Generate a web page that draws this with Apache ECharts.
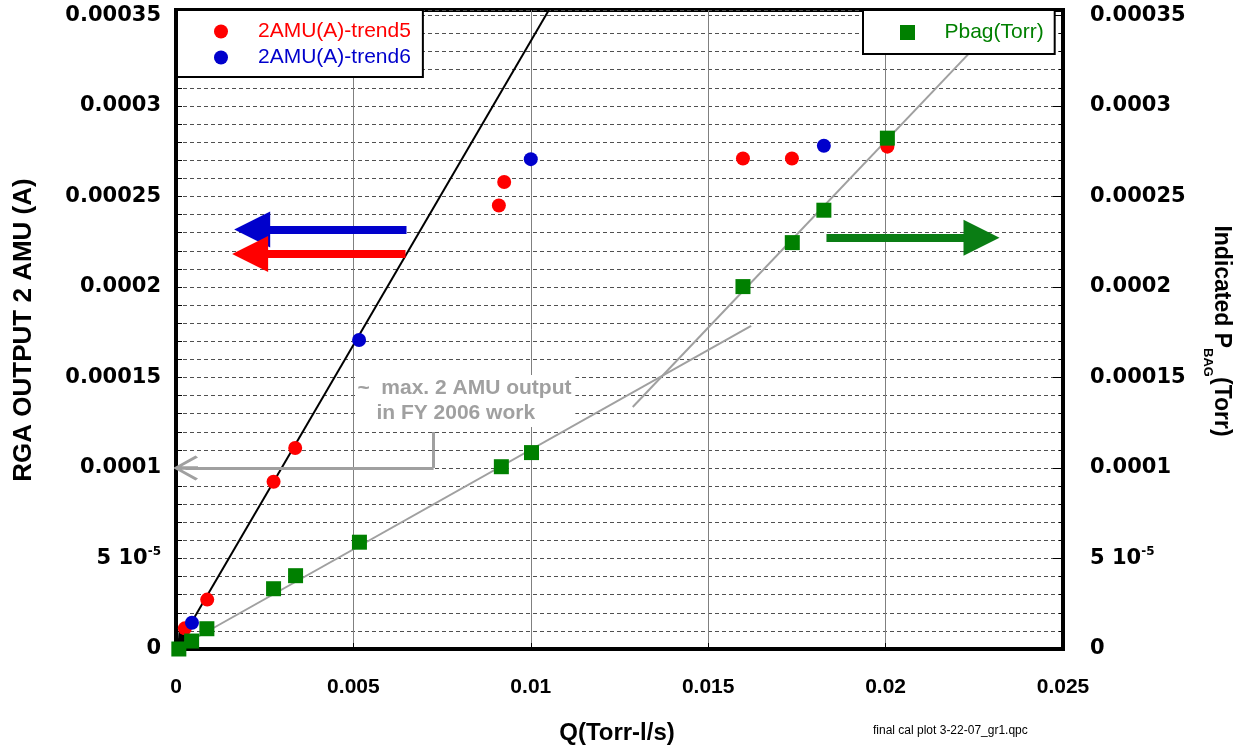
<!DOCTYPE html>
<html><head><meta charset="utf-8">
<script src="https://cdn.jsdelivr.net/npm/echarts@6/dist/echarts.min.js"></script>
<style>html,body{margin:0;padding:0;background:#fff}#c{width:1246px;height:748px}</style>
</head><body><div id="c"></div>
<script>
// ---- data ----
const trend5Q = [0.00025, 0.00088, 0.00275, 0.00336, 0.0091, 0.00925, 0.01598, 0.01736, 0.02005];
const trend5A = [0.0000114, 0.0000273, 0.0000924, 0.000111, 0.000245, 0.000258, 0.000271, 0.000271, 0.0002775];
const trend6Q = [0.00045, 0.00516, 0.0100, 0.01826];
const trend6A = [0.0000145, 0.0001707, 0.0002706, 0.000278];
const pbagQ = [0.00008, 0.00044, 0.00087, 0.00275, 0.00337, 0.00517, 0.00917, 0.01002, 0.01598, 0.01737, 0.01826, 0.02005];
const pbagT = [0, 0.0000044, 0.0000112, 0.0000333, 0.0000405, 0.000059, 0.0001007, 0.0001085, 0.0002002, 0.0002245, 0.0002424, 0.0002822];

// fit lines and annotation arrows (data units)
const fitTrend = [[0.000143, 0.0000048], [0.01051, 0.000353]];
const fitPbagLow = [[0, 0], [0.01621, 0.0001785]];
const fitPbagHigh = [[0.012873, 0.0001337], [0.0224, 0.00033]];
const arrowTrend6 = [[0.006497, 0.0002317], [0.002147, 0.0002317]];
const arrowTrend5 = [[0.006469, 0.0002182], [0.00209, 0.0002182]];
const arrowPbag = [[0.018333, 0.0002272], [0.022703, 0.0002272]];
const maxDrop = [[0.00726, 0.0001199], [0.00726, 0.0001]];
const maxArrow = [[0.00726, 0.0001], [0.000268, 0.0001]];
const noteAnchor = [0.005056, 0.0001514];
const noteLines = ['~  max. 2 AMU output', 'in FY 2006 work'];

// axes
const xRange = [0, 0.025], xStep = 0.005;
const yRange = [0, 0.000353], yStep = 0.00005;
const yTickValues = [0, 0.00005, 0.0001, 0.00015, 0.0002, 0.00025, 0.0003, 0.00035];
const yTickText = ['0', '{n|5 10}{e|-5}', '0.0001', '0.00015', '0.0002', '0.00025', '0.0003', '0.00035'];

const names = { t5: '2AMU(A)-trend5', t6: '2AMU(A)-trend6', pb: 'Pbag(Torr)' };
const C = { red: '#ff0000', blue: '#0000cc', green: '#008000', grey: '#a0a0a0' };

const zip = (a, b) => a.map((v, i) => [v, b[i]]);
function yFmt(v) {
  for (let i = 0; i < yTickValues.length; i++) if (Math.abs(v - yTickValues[i]) < 1e-10) return yTickText[i];
  return '';
}
const yLabelBase = {
  fontFamily: 'DejaVu Sans', fontWeight: 'bold', fontSize: 21, color: '#000', formatter: yFmt,
  rich: {
    n: { fontFamily: 'DejaVu Sans', fontWeight: 'bold', fontSize: 21, color: '#000', lineHeight: 26, verticalAlign: 'middle' },
    e: { fontFamily: 'DejaVu Sans', fontWeight: 'bold', fontSize: 12, color: '#000', lineHeight: 13, verticalAlign: 'top' }
  }
};
const dash = { color: '#505050', width: 1, type: [4, 3] };

function linesSeries(coords, color, width, symbol, symbolSize, yIdx) {
  return {
    type: 'lines', coordinateSystem: 'cartesian2d', xAxisIndex: 0, yAxisIndex: yIdx || 0,
    polyline: false, silent: true, symbol: symbol, symbolSize: symbolSize,
    lineStyle: { color: color, width: width, opacity: 1, curveness: 0 },
    data: [{ coords: coords }]
  };
}

const chart = echarts.init(document.getElementById('c'), null, { renderer: 'canvas' });
const option = {
  animation: false,
  backgroundColor: '#fff',
  grid: { left: 176, right: 183, top: 10, bottom: 99, show: true, borderColor: '#000', borderWidth: 4, backgroundColor: 'transparent', containLabel: false, outerBoundsMode: 'none' },
  xAxis: [{
    type: 'value', min: xRange[0], max: xRange[1], interval: xStep,
    axisLine: { show: true, onZero: false, lineStyle: { color: '#000', width: 4 } },
    axisTick: { show: true, inside: true, length: 6, lineStyle: { color: '#000', width: 1 } },
    splitLine: { show: true, lineStyle: { color: '#808080', width: 1, type: 'solid' } },
    axisLabel: { margin: 28, fontFamily: 'Liberation Sans', fontWeight: 'bold', fontSize: 21, color: '#000' }
  }],
  yAxis: [{
    type: 'value', position: 'left', min: yRange[0], max: yRange[1], interval: yStep,
    axisLine: { show: true, onZero: false, lineStyle: { color: '#000', width: 4 } },
    axisTick: { show: true, inside: true, length: 6, lineStyle: { color: '#000', width: 1 } },
    minorTick: { show: true, splitNumber: 5, length: 6, lineStyle: { color: '#000', width: 1 } },
    splitLine: { show: true, lineStyle: dash },
    minorSplitLine: { show: true, lineStyle: dash },
    axisLabel: Object.assign({ margin: 15 }, yLabelBase)
  }, {
    type: 'value', position: 'right', min: yRange[0], max: yRange[1], interval: yStep,
    axisLine: { show: true, onZero: false, lineStyle: { color: '#000', width: 4 } },
    axisTick: { show: true, inside: true, length: 10, lineStyle: { color: '#000', width: 1 } },
    minorTick: { show: true, splitNumber: 5, length: 4, lineStyle: { color: '#000', width: 1 } },
    splitLine: { show: false }, minorSplitLine: { show: false },
    axisLabel: Object.assign({ margin: 27 }, yLabelBase)
  }],
  legend: [{
    orient: 'vertical', left: 177, top: 10, itemWidth: 64, itemHeight: 14, itemGap: 5,
    padding: [11, 12, 9, 37], backgroundColor: '#fff', borderColor: '#000', borderWidth: 2,
    selectedMode: false, symbolKeepAspect: true,
    textStyle: { fontFamily: 'Liberation Sans', fontSize: 21 },
    data: [
      { name: names.t5, icon: 'circle', textStyle: { color: C.red } },
      { name: names.t6, icon: 'circle', textStyle: { color: C.blue } }
    ]
  }, {
    orient: 'vertical', left: 863, top: 10, itemWidth: 64, itemHeight: 15, itemGap: 5,
    padding: [12, 11, 11, 37], backgroundColor: '#fff', borderColor: '#000', borderWidth: 2,
    selectedMode: false, symbolKeepAspect: true,
    textStyle: { fontFamily: 'Liberation Sans', fontSize: 21 },
    data: [{ name: names.pb, icon: 'path://M0,0L10,0L10,10L0,10Z', textStyle: { color: C.green } }]
  }],
  series: [
    { name: names.t5, type: 'scatter', xAxisIndex: 0, yAxisIndex: 0, symbol: 'circle', symbolSize: 14, itemStyle: { color: C.red, opacity: 1 }, data: zip(trend5Q, trend5A) },
    { name: names.t6, type: 'scatter', xAxisIndex: 0, yAxisIndex: 0, symbol: 'circle', symbolSize: 14, itemStyle: { color: C.blue, opacity: 1 }, data: zip(trend6Q, trend6A) },
    { name: names.pb, type: 'scatter', xAxisIndex: 0, yAxisIndex: 1, symbol: 'rect', symbolSize: 15, itemStyle: { color: C.green, opacity: 1 }, data: zip(pbagQ, pbagT) },
    linesSeries(fitPbagLow, C.grey, 2, ['none', 'none'], 1, 1),
    linesSeries(fitPbagHigh, C.grey, 2, ['none', 'none'], 1, 1),
    linesSeries(fitTrend, '#000', 2, ['triangle', 'none'], [14, 20], 0),
    linesSeries(arrowTrend6, C.blue, 8, ['none', 'triangle'], [27, 36], 0),
    linesSeries(arrowTrend5, C.red, 8, ['none', 'triangle'], [27, 36], 0),
    linesSeries(arrowPbag, '#0a7d14', 8, ['none', 'triangle'], [27, 36], 1),
    linesSeries(maxDrop, C.grey, 3, ['none', 'none'], 1, 0),
    linesSeries(maxArrow, C.grey, 3, ['none', 'path://M5,0L10,9L9.2,10L5.7,3.6L5.7,10L4.3,10L4.3,3.6L0.8,10L0,9Z'], [18, 25], 0)
  ]
};
chart.setOption(option);

const p = chart.convertToPixel({ gridIndex: 0 }, noteAnchor);
const greyText = { fontFamily: 'Liberation Sans', fontWeight: 'bold', fontSize: 21 };
chart.setOption({
  graphic: [
    { type: 'rect', z: 1, silent: true, shape: { x: p[0], y: p[1], width: 220, height: 52 }, style: { fill: '#fff' } },
    { type: 'text', z: 1, silent: true, x: p[0] + 2, y: p[1] + 13, style: Object.assign({ text: noteLines[0], fill: C.grey, textVerticalAlign: 'middle', textAlign: 'left' }, greyText) },
    { type: 'text', z: 1, silent: true, x: p[0] + 21, y: p[1] + 38, style: Object.assign({ text: noteLines[1], fill: C.grey, textVerticalAlign: 'middle', textAlign: 'left' }, greyText) },
    { type: 'text', silent: true, x: 617, y: 733, style: { text: 'Q(Torr-l/s)', fill: '#000', fontFamily: 'Liberation Sans', fontWeight: 'bold', fontSize: 24, textAlign: 'center', textVerticalAlign: 'middle' } },
    { type: 'text', silent: true, x: 873, y: 731, style: { text: 'final cal plot 3-22-07_gr1.qpc', fill: '#000', fontFamily: 'Liberation Sans', fontSize: 12, textAlign: 'left', textVerticalAlign: 'middle' } },
    { type: 'text', silent: true, x: 24, y: 330, rotation: Math.PI / 2, style: { text: 'RGA OUTPUT 2 AMU (A)', fill: '#000', fontFamily: 'Liberation Sans', fontWeight: 'bold', fontSize: 26, textAlign: 'center', textVerticalAlign: 'middle' } },
    { type: 'text', silent: true, x: 1217, y: 331, rotation: -Math.PI / 2, style: {
        text: '{m|Indicated P}{s|BAG}{m|(Torr)}', textAlign: 'center', textVerticalAlign: 'middle',
        rich: {
          m: { fill: '#000', fontFamily: 'Liberation Sans', fontWeight: 'bold', fontSize: 23, lineHeight: 23, verticalAlign: 'top' },
          s: { fill: '#000', fontFamily: 'Liberation Sans', fontWeight: 'bold', fontSize: 13, lineHeight: 32, padding: [19, 0, 0, 0], verticalAlign: 'top' }
        }
    } }
  ]
});
</script></body></html>
